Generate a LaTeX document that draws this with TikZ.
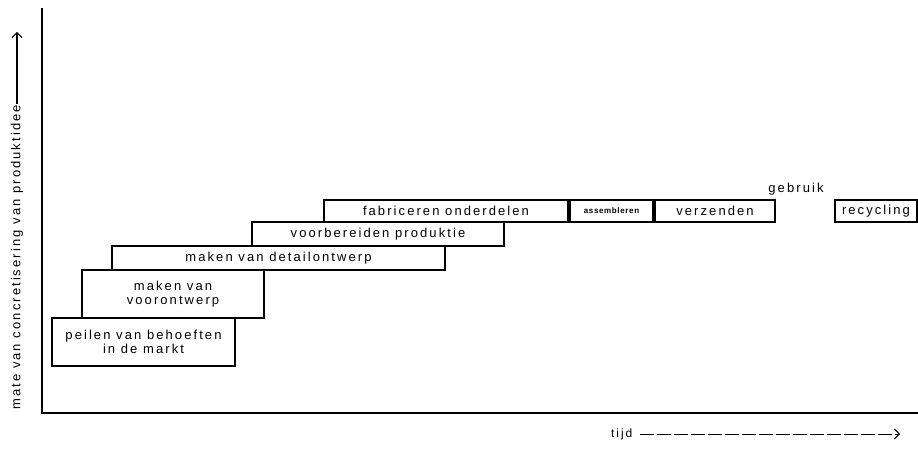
\documentclass[tikz,border=0pt]{standalone}
\usepackage{fontspec}
\setmainfont{Liberation Sans}
\newfontfamily\stagefont[LetterSpace=16]{Liberation Sans}
\newfontfamily\smallfont[LetterSpace=8]{Liberation Sans}
\usetikzlibrary{arrows.meta}

\begin{document}
\begin{tikzpicture}[x=1pt,y=-1pt,
    stage/.style={draw,line width=1.1pt,fill=white,inner sep=0pt,align=center,
      font=\stagefont\fontsize{13}{14.5}\selectfont},
    axis/.style={line width=1.2pt},
    tip/.style={-{Straight Barb[length=5pt,width=10pt,line width=1pt]}}]
\useasboundingbox (0,0) rectangle (918,449);
% assen
\coordinate (ytop) at (42,8);
\coordinate (o) at (42,413);
\coordinate (xend) at (918,413);
\draw[axis] (ytop) -- (o) -- (xend);
% fasen
\node[stage,minimum width=183pt,minimum height=48pt] (peilen) at (143.5,342) {peilen van behoeften\\in de markt};
\node[stage,minimum width=182pt,minimum height=48pt] (voorontwerp) at (173,294) {maken van\\voorontwerp};
\node[stage,minimum width=333pt,minimum height=24pt] (detail) at (278.5,258) {maken van detailontwerp};
\node[stage,minimum width=252pt,minimum height=24pt] (voorbereiden) at (378,234) {voorbereiden produktie};
\node[stage,minimum width=244pt,minimum height=22pt] (fabriceren) at (446,211) {fabriceren onderdelen};
\node[stage,minimum width=83pt,minimum height=22pt,font=\smallfont\bfseries\fontsize{8}{9}\selectfont] (assembleren) at (611.5,211) {assembleren};
\node[stage,minimum width=120pt,minimum height=22pt] (verzenden) at (715,211) {verzenden};
\node[stage,minimum width=82pt,minimum height=22pt] (recycling) at (876,211) {recycling};
\node[font=\stagefont\fontsize{13}{14}\selectfont] (gebruik) at (796,189) {gebruik};
% as-labels
\node[rotate=90,anchor=west,inner sep=1pt,font=\stagefont\fontsize{13}{14}\selectfont] (mate) at (17,411) {mate van concretisering van produktidee};
\coordinate (matetip) at (17,32);
\draw[tip,line width=1.3pt] (mate.east) -- (matetip);
\node[anchor=west,inner sep=1pt,font=\stagefont\fontsize{12}{13}\selectfont] (tijd) at (610,434) {tijd};
\coordinate (tijdtip) at (900,434);
\draw[tip,line width=0.9pt,dash pattern=on 14pt off 3pt] (tijd.east) ++(6,0) -- (tijdtip);
\end{tikzpicture}
\end{document}
